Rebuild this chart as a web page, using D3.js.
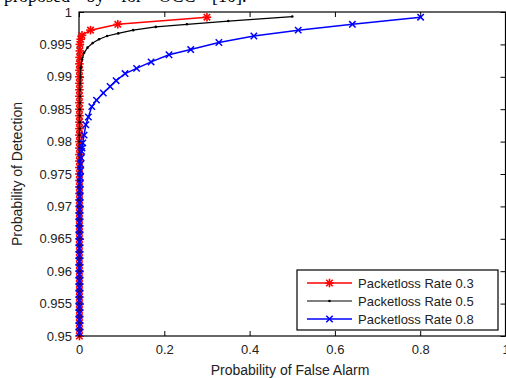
<!DOCTYPE html>
<html>
<head>
<meta charset="utf-8">
<script src="https://cdn.jsdelivr.net/npm/d3@7"></script>
<style>
  body { margin: 0; background: #fff; }
  svg { display: block; }
</style>
</head>
<body>
<div id="viz"></div>
<script>
// ROC curves, one pair of arrays per packet loss rate
var redX = [0.001, 0.001, 0.001, 0.001, 0.001, 0.001, 0.001, 0.001, 0.001, 0.001,
            0.001, 0.001, 0.001, 0.001, 0.001, 0.001, 0.001, 0.001, 0.001, 0.001,
            0.001, 0.001, 0.001, 0.001, 0.001, 0.001, 0.001, 0.001, 0.001, 0.001,
            0.001, 0.001, 0.001, 0.001, 0.001, 0.001, 0.001, 0.001, 0.001, 0.001,
            0.001, 0.001, 0.001, 0.0015, 0.002, 0.002,
            0.004, 0.007, 0.027, 0.091, 0.300];
var redY = [0.950, 0.951, 0.952, 0.953, 0.954, 0.955, 0.956, 0.957, 0.958, 0.959,
            0.960, 0.961, 0.962, 0.963, 0.964, 0.965, 0.966, 0.967, 0.968, 0.969,
            0.970, 0.971, 0.972, 0.973, 0.974, 0.975, 0.976, 0.977, 0.978, 0.979,
            0.980, 0.981, 0.982, 0.983, 0.984, 0.985, 0.986, 0.987, 0.988, 0.989,
            0.990, 0.991, 0.992, 0.993, 0.994, 0.995,
            0.9958, 0.9964, 0.9972, 0.9981, 0.9992];

var blackX = [0.001, 0.001, 0.001, 0.001, 0.001, 0.001, 0.001, 0.001, 0.001, 0.001,
              0.001, 0.001, 0.001, 0.001, 0.001, 0.001, 0.001, 0.001, 0.001, 0.001,
              0.001, 0.001, 0.001, 0.001, 0.001, 0.001, 0.001, 0.001, 0.001, 0.001,
              0.001, 0.001, 0.0015, 0.0015, 0.0015, 0.0015, 0.002, 0.002, 0.002, 0.0025,
              0.003, 0.004, 0.007, 0.012, 0.020, 0.032, 0.047, 0.066, 0.092, 0.127,
              0.180, 0.253, 0.350, 0.500];
var blackY = [0.950, 0.951, 0.952, 0.953, 0.954, 0.955, 0.956, 0.957, 0.958, 0.959,
              0.960, 0.961, 0.962, 0.963, 0.964, 0.965, 0.966, 0.967, 0.968, 0.969,
              0.970, 0.971, 0.972, 0.973, 0.974, 0.975, 0.976, 0.977, 0.978, 0.979,
              0.980, 0.981, 0.982, 0.983, 0.984, 0.985, 0.986, 0.987, 0.988, 0.989,
              0.990, 0.9914, 0.9927, 0.9937, 0.9945, 0.9952, 0.9958, 0.9963, 0.9967, 0.9972,
              0.9977, 0.9981, 0.9986, 0.9993];

var blueX = [0.001, 0.001, 0.001, 0.001, 0.001, 0.001, 0.001, 0.001, 0.001, 0.001,
             0.001, 0.001, 0.001, 0.001, 0.001, 0.001, 0.001, 0.001, 0.001, 0.0015,
             0.0015, 0.002, 0.002, 0.0025, 0.003, 0.0035, 0.004, 0.005, 0.006, 0.007,
             0.0087, 0.012, 0.016, 0.022, 0.030, 0.041, 0.057, 0.073, 0.087, 0.108,
             0.135, 0.169, 0.211, 0.262, 0.328, 0.410, 0.514, 0.641, 0.801];
var blueY = [0.9505, 0.9515, 0.9525, 0.9535, 0.9545, 0.9555, 0.9565, 0.9575, 0.9585, 0.9595,
             0.9605, 0.9615, 0.9625, 0.9635, 0.9645, 0.9655, 0.9665, 0.9675, 0.9685, 0.9695,
             0.9705, 0.9715, 0.9725, 0.9735, 0.9745, 0.9755, 0.9765, 0.9775, 0.9785, 0.979,
             0.9798, 0.9810, 0.9826, 0.9838, 0.9854, 0.9864, 0.9875, 0.9885, 0.9894, 0.9905,
             0.9913, 0.9923, 0.9934, 0.9942, 0.9953, 0.9963, 0.9972, 0.9981, 0.9992];

var xTicks = [0, 0.2, 0.4, 0.6, 0.8, 1];
var yTicks = [0.95, 0.955, 0.96, 0.965, 0.97, 0.975, 0.98, 0.985, 0.99, 0.995, 1];
var legendLabels = ['Packetloss Rate 0.3', 'Packetloss Rate 0.5', 'Packetloss Rate 0.8'];

var W = 506, H = 378;
// plot box edges (window.top is taken, so prefix them)
var plotLeft = 79, plotRight = 505.5, plotTop = 12, plotBottom = 336;
var font = 'Liberation Sans, Arial, Helvetica, sans-serif';

var svg = d3.select('#viz').append('svg')
  .attr('width', W)
  .attr('height', H);

// clipped line of body text from the page above the figure
svg.append('text')
  .attr('x', 4)
  .attr('y', 2)
  .style('font-family', 'Liberation Serif, Times New Roman, serif')
  .style('font-size', '18px')
  .style('word-spacing', '12px')
  .text('proposed by for OCC [10].');

var x = d3.scaleLinear().domain([0, 1]).range([plotLeft, plotRight]);
var y = d3.scaleLinear().domain([0.95, 1]).range([plotBottom, plotTop]);

// axes, matlab style: ticks inside the box
function styleAxis(g) {
  g.select('.domain').remove();
  g.selectAll('line').style('stroke', '#000').style('stroke-width', 1);
  g.selectAll('text')
    .style('font-family', font)
    .style('font-size', '13px')
    .style('fill', '#222');
}

svg.append('g')
  .attr('transform', 'translate(0,' + plotBottom + ')')
  .call(d3.axisBottom(x).tickValues(xTicks).tickSize(-5).tickPadding(9).tickFormat(d3.format('')))
  .call(styleAxis);
svg.append('g')
  .attr('transform', 'translate(0,' + plotTop + ')')
  .call(d3.axisTop(x).tickValues(xTicks).tickSize(-5).tickFormat(''))
  .call(styleAxis);
svg.append('g')
  .attr('transform', 'translate(' + plotLeft + ',0)')
  .call(d3.axisLeft(y).tickValues(yTicks).tickSize(-5).tickPadding(7).tickFormat(function(d) { return String(+d.toFixed(3)); }))
  .call(styleAxis);
svg.append('g')
  .attr('transform', 'translate(' + plotRight + ',0)')
  .call(d3.axisRight(y).tickValues(yTicks).tickSize(-5).tickFormat(''))
  .call(styleAxis);

svg.append('rect')
  .attr('x', plotLeft)
  .attr('y', plotTop)
  .attr('width', plotRight - plotLeft)
  .attr('height', plotBottom - plotTop)
  .style('fill', 'none')
  .style('stroke', '#000')
  .style('stroke-width', 1.2);

// axis titles
svg.append('text')
  .attr('x', 290)
  .attr('y', 375)
  .attr('text-anchor', 'middle')
  .style('font-family', font)
  .style('font-size', '14px')
  .style('fill', '#222')
  .text('Probability of False Alarm');
svg.append('text')
  .attr('transform', 'translate(22,' + ((plotTop + plotBottom) / 2) + ') rotate(-90)')
  .attr('text-anchor', 'middle')
  .style('font-family', font)
  .style('font-size', '14px')
  .style('fill', '#222')
  .text('Probability of Detection');

// marker shapes
function drawMarker(g, kind, cx, cy, color) {
  if (kind === 'star') {
    var s = 4.3;
    var pts = [[-s, 0, s, 0], [0, -s, 0, s], [-s * 0.75, -s * 0.75, s * 0.75, s * 0.75], [-s * 0.75, s * 0.75, s * 0.75, -s * 0.75]];
    pts.forEach(function(p) {
      g.append('line')
        .attr('x1', cx + p[0]).attr('y1', cy + p[1])
        .attr('x2', cx + p[2]).attr('y2', cy + p[3])
        .style('stroke', color).style('stroke-width', 1.6);
    });
  } else if (kind === 'cross') {
    var c = 3.2;
    g.append('line')
      .attr('x1', cx - c).attr('y1', cy - c).attr('x2', cx + c).attr('y2', cy + c)
      .style('stroke', color).style('stroke-width', 1.5);
    g.append('line')
      .attr('x1', cx - c).attr('y1', cy + c).attr('x2', cx + c).attr('y2', cy - c)
      .style('stroke', color).style('stroke-width', 1.5);
  } else {
    g.append('circle')
      .attr('cx', cx).attr('cy', cy).attr('r', 1.3)
      .style('fill', color);
  }
}

var series = [
  {xs: redX, ys: redY, color: '#ff0000', marker: 'star', width: 1.6},
  {xs: blackX, ys: blackY, color: '#000000', marker: 'dot', width: 1.2},
  {xs: blueX, ys: blueY, color: '#0000ff', marker: 'cross', width: 1.5}
];

var line = d3.line()
  .x(function(d) { return x(d[0]); })
  .y(function(d) { return y(d[1]); });

series.forEach(function(s) {
  var pts = s.xs.map(function(v, i) { return [v, s.ys[i]]; });
  var g = svg.append('g');
  g.append('path')
    .datum(pts)
    .attr('d', line)
    .style('fill', 'none')
    .style('stroke', s.color)
    .style('stroke-width', s.width);
  pts.forEach(function(p) {
    drawMarker(g, s.marker, x(p[0]), y(p[1]), s.color);
  });
});

// legend box
var lg = svg.append('g');
lg.append('rect')
  .attr('x', 297).attr('y', 270)
  .attr('width', 201).attr('height', 60)
  .style('fill', '#fff')
  .style('stroke', '#000')
  .style('stroke-width', 1.2);
series.forEach(function(s, i) {
  var ly = 283 + i * 18;
  lg.append('line')
    .attr('x1', 307).attr('x2', 352)
    .attr('y1', ly).attr('y2', ly)
    .style('stroke', s.color)
    .style('stroke-width', s.width);
  drawMarker(lg, s.marker, 329.5, ly, s.color);
  lg.append('text')
    .attr('x', 358)
    .attr('y', ly)
    .attr('dy', '0.36em')
    .style('font-family', font)
    .style('font-size', '13px')
    .style('fill', '#222')
    .text(legendLabels[i]);
});
</script>
</body>
</html>
